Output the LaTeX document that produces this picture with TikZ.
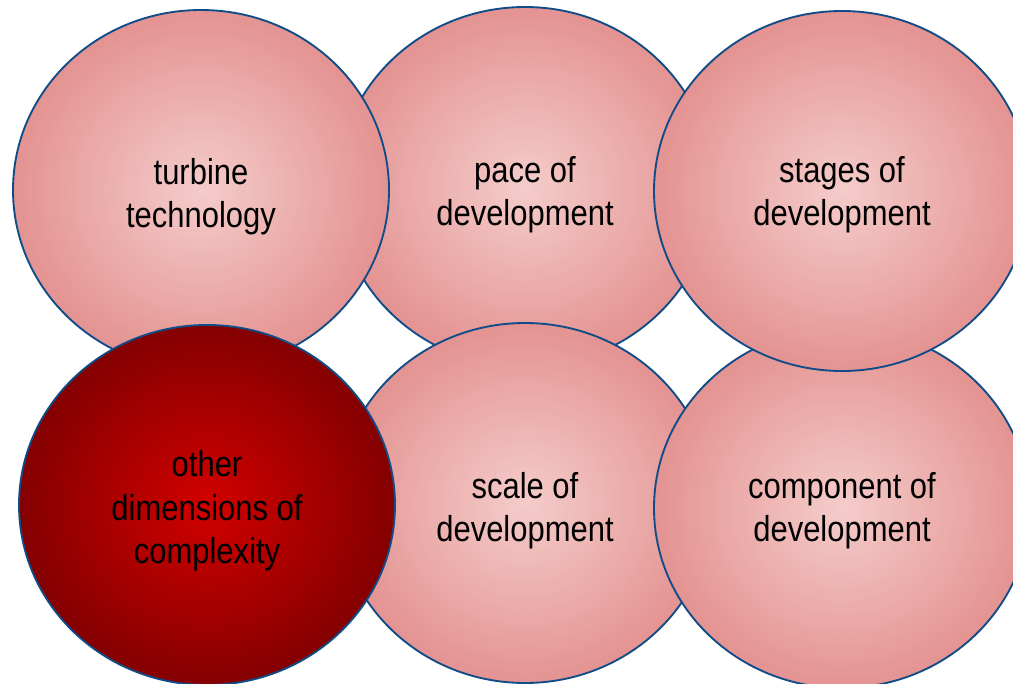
\documentclass[tikz,border=0pt]{standalone}
\usepackage{fontspec}
\setmainfont{Liberation Sans}[FakeStretch=0.86]
\usetikzlibrary{shapes.geometric}

\definecolor{rimBlue}{RGB}{16,76,136}
\definecolor{pinkIn}{RGB}{244,204,202}
\definecolor{pinkOut}{RGB}{220,122,120}
\definecolor{redIn}{RGB}{210,0,0}
\definecolor{redOut}{RGB}{104,0,0}

% radial fills, the colour runs right out to the rim
\pgfdeclareradialshading{pinkball}{\pgfpoint{0bp}{0bp}}{color(0bp)=(pinkIn); color(36bp)=(pinkOut); color(72bp)=(pinkOut)}
\pgfdeclareradialshading{redball}{\pgfpoint{0bp}{0bp}}{color(0bp)=(redIn); color(34bp)=(redOut); color(72bp)=(redOut)}

\tikzset{
  bubble/.style={ellipse, draw=rimBlue, line width=1.4pt, shading=pinkball,
    minimum width=282pt, minimum height=270pt, inner sep=0pt},
  hotbubble/.style={bubble, shading=redball},
  caption/.style={align=center, inner sep=0.75pt, font=\fontsize{27}{32.5}\selectfont}
}

\begin{document}
\begin{tikzpicture}[x=0.75pt,y=0.75pt,yscale=-1,xscale=1]
\clip (0,0) rectangle (1013,684); %diagram is 1013 wide, 684 high

%Shape: Ellipse, upper middle
\node [bubble] (pace) at (525,187) {};
%Shape: Ellipse, upper left
\node [bubble] (turbine) at (201,190) {};
%Shape: Ellipse, lower middle
\node [bubble] (scale) at (525,503) {};
%Shape: Ellipse, lower right
\node [bubble] (component) at (842,508) {};
%Shape: Ellipse, upper right
\node [bubble] (stages) at (842,191) {};
%Shape: Ellipse, lower left (highlighted)
\node [hotbubble] (other) at (207,505) {};

% Text Node
\node [caption] (turbineText) at (201,197) {turbine\\technology};
% Text Node
\node [caption] (paceText) at (525,195) {pace of\\development};
% Text Node
\node [caption] (stagesText) at (842,195) {stages of\\development};
% Text Node
\node [caption] (otherText) at (207,511) {other\\dimensions of\\complexity};
% Text Node
\node [caption] (scaleText) at (525,511) {scale of\\development};
% Text Node
\node [caption] (componentText) at (842,511) {component of\\development};

\end{tikzpicture}
\end{document}
